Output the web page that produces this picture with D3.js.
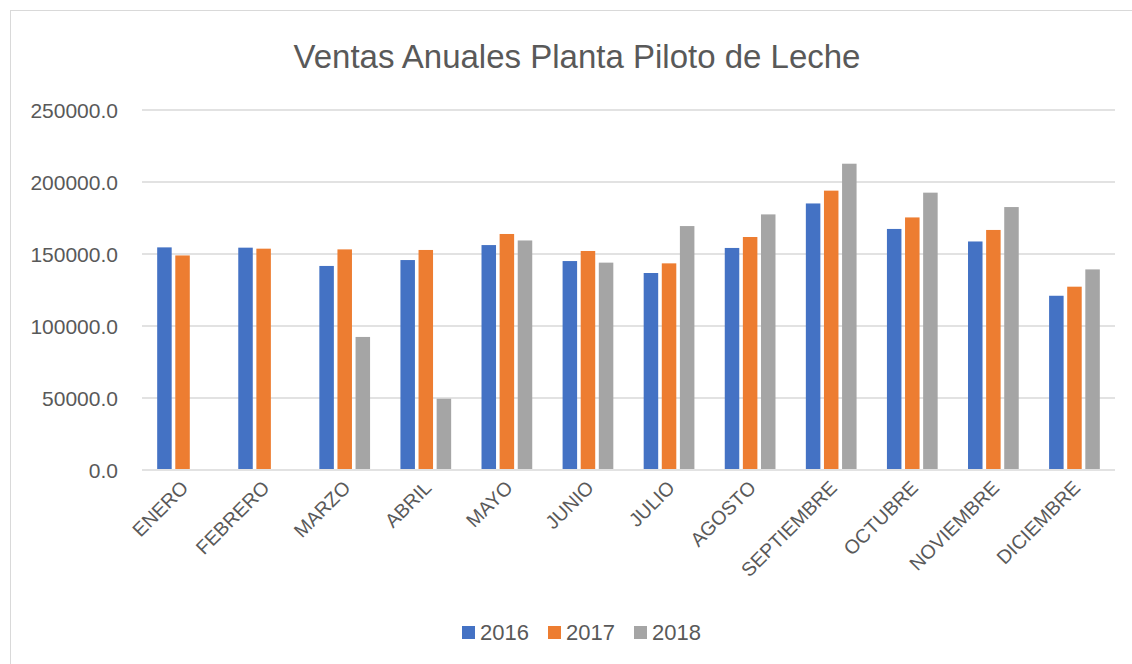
<!DOCTYPE html>
<meta charset="utf-8">
<script src="https://d3js.org/d3.v7.min.js"></script>
<style>
  body { margin: 0; background: #fff; }
  text { font-family: "Liberation Sans", Arial, sans-serif; fill: #595959; }
</style>
<div id="chart"></div>
<script>

// data
var months = ["ENERO", "FEBRERO", "MARZO", "ABRIL", "MAYO", "JUNIO", "JULIO",
              "AGOSTO", "SEPTIEMBRE", "OCTUBRE", "NOVIEMBRE", "DICIEMBRE"];
var years = ["2016", "2017", "2018"];
var ventas2016 = [154600, 154400, 141700, 145800, 156200, 145100, 136800, 154200, 185100, 167400, 158700, 121000];
var ventas2017 = [149000, 153700, 153200, 152800, 163900, 152100, 143500, 161800, 194000, 175400, 166700, 127300];
var ventas2018 = [0, 0, 92400, 49500, 159400, 144000, 169400, 177500, 212700, 192600, 182600, 139300];
var yTicks = [0, 50000, 100000, 150000, 200000, 250000];
var colors = ["#4472C4", "#ED7D31", "#A5A5A5"];

var series = [ventas2016, ventas2017, ventas2018];
var data = months.map(function(m, i) {
  return { month: m, values: years.map(function(y, j) { return { year: y, value: series[j][i] }; }) };
});

var margin = {top: 110, right: 17, bottom: 194, left: 142},
    width = 1132 - margin.left - margin.right,
    height = 664 - margin.top - margin.bottom;

var root = d3.select("#chart").append("svg")
    .attr("width", 1132)
    .attr("height", 664);

// chart frame
root.append("rect")
    .attr("x", 10.5).attr("y", 10.5)
    .attr("width", 1140).attr("height", 680)
    .attr("fill", "#fff")
    .attr("stroke", "#d9d9d9");

var svg = root.append("g")
    .attr("transform", "translate(" + margin.left + "," + margin.top + ")");

var x0 = d3.scaleBand()
    .domain(months)
    .range([0, width])
    .paddingInner(0.33)
    .paddingOuter(0.165);

var x1 = d3.scaleBand()
    .domain(years)
    .range([0, x0.bandwidth()]);

var y = d3.scaleLinear()
    .domain([0, 250000])
    .range([height, 0]);

var color = d3.scaleOrdinal().domain(years).range(colors);

// gridlines
svg.append("g")
  .selectAll("line")
  .data(yTicks)
  .enter()
  .append("line")
    .attr("x1", 0)
    .attr("x2", width)
    .attr("y1", function(d) { return y(d); })
    .attr("y2", function(d) { return y(d); })
    .attr("stroke", "#d9d9d9")
    .attr("stroke-width", 1.3);

// y axis labels
svg.append("g")
  .selectAll("text")
  .data(yTicks)
  .enter()
  .append("text")
    .attr("x", -24)
    .attr("y", function(d) { return y(d); })
    .attr("dy", "0.36em")
    .attr("text-anchor", "end")
    .style("font-size", "21px")
    .text(function(d) { return d3.format(".1f")(d); });

// bars
var inset = 1.8;
svg.append("g")
  .selectAll("g")
  .data(data)
  .enter()
  .append("g")
    .attr("transform", function(d) { return "translate(" + x0(d.month) + ",0)"; })
  .selectAll("rect")
  .data(function(d) { return d.values.filter(function(v) { return v.value > 0; }); })
  .enter()
  .append("rect")
    .attr("x", function(d) { return x1(d.year) + inset; })
    .attr("width", x1.bandwidth() - 2 * inset)
    .attr("y", function(d) { return y(d.value); })
    .attr("height", function(d) { return y(0) - y(d.value) - 1; })
    .attr("fill", function(d) { return color(d.year); });

// x axis labels, rotated
svg.append("g")
  .selectAll("text")
  .data(months)
  .enter()
  .append("text")
    .attr("text-anchor", "end")
    .attr("transform", function(d) {
      return "translate(" + (x0(d) + x0.bandwidth() / 2 + 7) + "," + (height + 19) + ") rotate(-45)";
    })
    .style("font-size", "19.5px")
    .text(function(d) { return d; });

// title
root.append("text")
    .attr("x", 577)
    .attr("y", 68)
    .attr("text-anchor", "middle")
    .style("font-size", "33px")
    .text("Ventas Anuales Planta Piloto de Leche");

// legend
var legend = root.append("g")
    .attr("transform", "translate(462,620)");

var item = legend.selectAll("g")
  .data(years)
  .enter()
  .append("g")
    .attr("transform", function(d, i) { return "translate(" + (i * 86) + ",0)"; });

item.append("rect")
    .attr("y", 6)
    .attr("width", 13)
    .attr("height", 13)
    .attr("fill", function(d) { return color(d); });

item.append("text")
    .attr("x", 18)
    .attr("y", 20)
    .style("font-size", "22px")
    .text(function(d) { return d; });

</script>
